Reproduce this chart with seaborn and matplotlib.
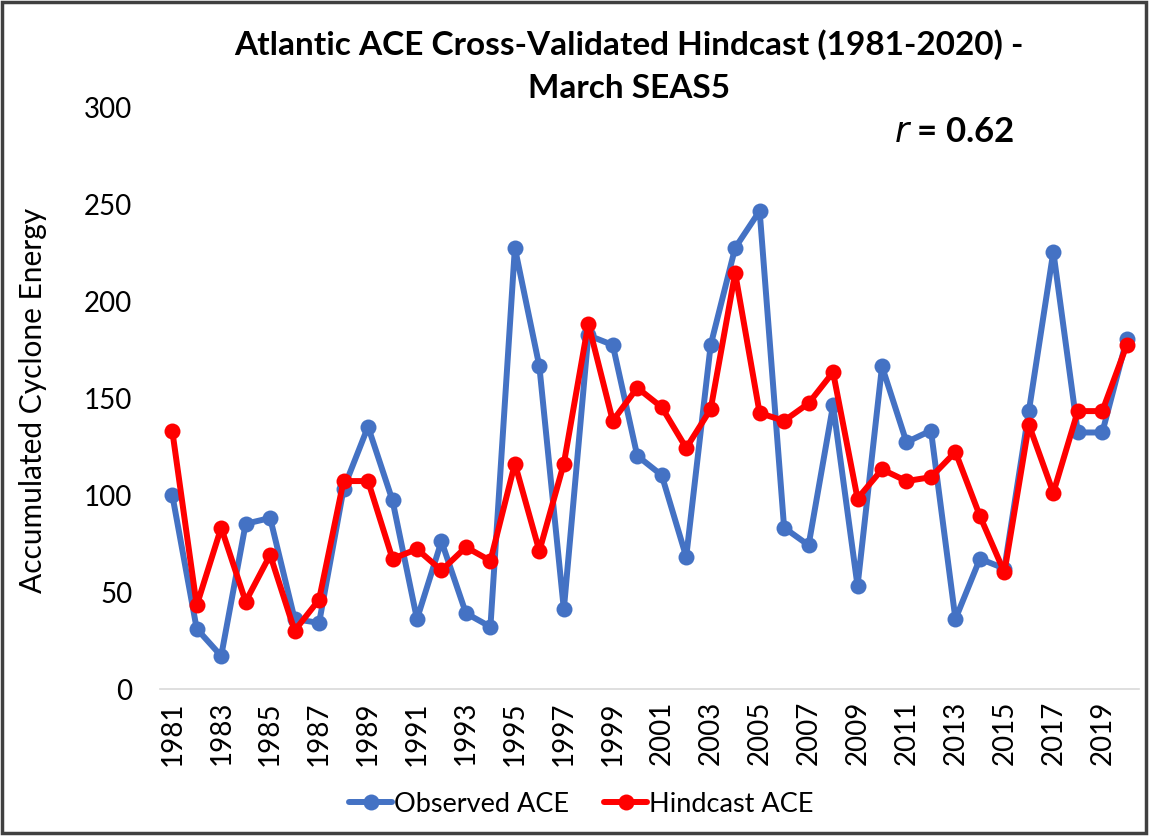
import pandas as pd
import matplotlib
matplotlib.use("Agg")
import matplotlib.pyplot as plt
import seaborn as sns
from matplotlib.patches import Rectangle

# values
years = list(range(1981, 2021))
observed_ace = [100, 31, 17, 85, 88, 36, 34, 103, 135, 97,
                36, 76, 39, 32, 227, 166, 41, 182, 177, 120,
                110, 68, 177, 227, 246, 83, 74, 146, 53, 166,
                127, 133, 36, 67, 62, 143, 225, 132, 132, 180]
hindcast_ace = [133, 43, 83, 45, 69, 30, 46, 107, 107, 67,
                72, 61, 73, 66, 116, 71, 116, 188, 138, 155,
                145, 124, 144, 214, 142, 138, 147, 163, 98, 113,
                107, 109, 122, 89, 60, 136, 101, 143, 143, 177]
series_names = ["Observed ACE", "Hindcast ACE"]
series_colors = ["#4472C4", "#FF0000"]
xtick_years = list(range(1981, 2020, 2))
yticks = [0, 50, 100, 150, 200, 250, 300]

df = pd.DataFrame({
    "Year": years * 2,
    "ACE": observed_ace + hindcast_ace,
    "Series": [series_names[0]] * len(years) + [series_names[1]] * len(years),
})

sns.set_style("white")
plt.rcParams['font.family'] = ['Lato', 'DejaVu Sans']
plt.rcParams['text.color'] = 'black'
plt.rcParams['xtick.color'] = 'black'
plt.rcParams['ytick.color'] = 'black'

W, H = 1151, 837
fig = plt.figure(figsize=(W / 100, H / 100), dpi=100)
ax = fig.add_axes([160 / W, 1 - 690 / H, 979 / W, 583 / H])

sns.lineplot(data=df, x="Year", y="ACE", hue="Series", hue_order=series_names,
             palette=dict(zip(series_names, series_colors)),
             style="Series", markers=["o", "o"], dashes=False,
             linewidth=4.3, markersize=11.5, markeredgewidth=0, ax=ax)

ax.set_xlim(1980.5, 2020.5)
ax.set_ylim(0, 300)
ax.set_xticks(xtick_years)
ax.set_xticklabels([str(y) for y in xtick_years], rotation=90, fontsize=20)
ax.set_yticks(yticks)
ax.set_yticklabels([str(v) for v in yticks], fontsize=20)
ax.tick_params(axis="both", length=0)
ax.tick_params(axis="y", pad=20)
ax.tick_params(axis="x", pad=8)
ax.set_xlabel("")
ax.set_ylabel("")
for side in ["left", "right", "top"]:
    ax.spines[side].set_visible(False)
ax.spines["bottom"].set_color("#d9d9d9")
ax.spines["bottom"].set_linewidth(1.2)

fig.text(33 / W, 1 - 400 / H, "Accumulated Cyclone Energy", rotation=90,
         ha="center", va="center", fontsize=21.5)

fig.text(629 / W, 1 - 45 / H, "Atlantic ACE Cross-Validated Hindcast (1981-2020) -",
         ha="center", va="center", fontsize=24, fontweight="bold")
fig.text(629 / W, 1 - 89 / H, "March SEAS5",
         ha="center", va="center", fontsize=24, fontweight="bold")
fig.text(954 / W, 1 - 132 / H, r"$\bf{\it{r}}$ = 0.62",
         ha="center", va="center", fontsize=25, fontweight="bold")

handles, labels = ax.get_legend_handles_labels()
ax.get_legend().remove()
fig.legend(handles=handles, labels=labels, loc="center",
           bbox_to_anchor=(581 / W, 1 - 805 / H), ncol=2, frameon=False,
           fontsize=19.5, handlelength=1.6, handletextpad=0.05, columnspacing=1.3)

# dark frame around the whole chart
fig.patches.append(Rectangle((0.002, 0.003), 0.994, 0.993, transform=fig.transFigure,
                             fill=False, edgecolor="#404040", linewidth=2.5))

fig.savefig("out.png", dpi=100)
